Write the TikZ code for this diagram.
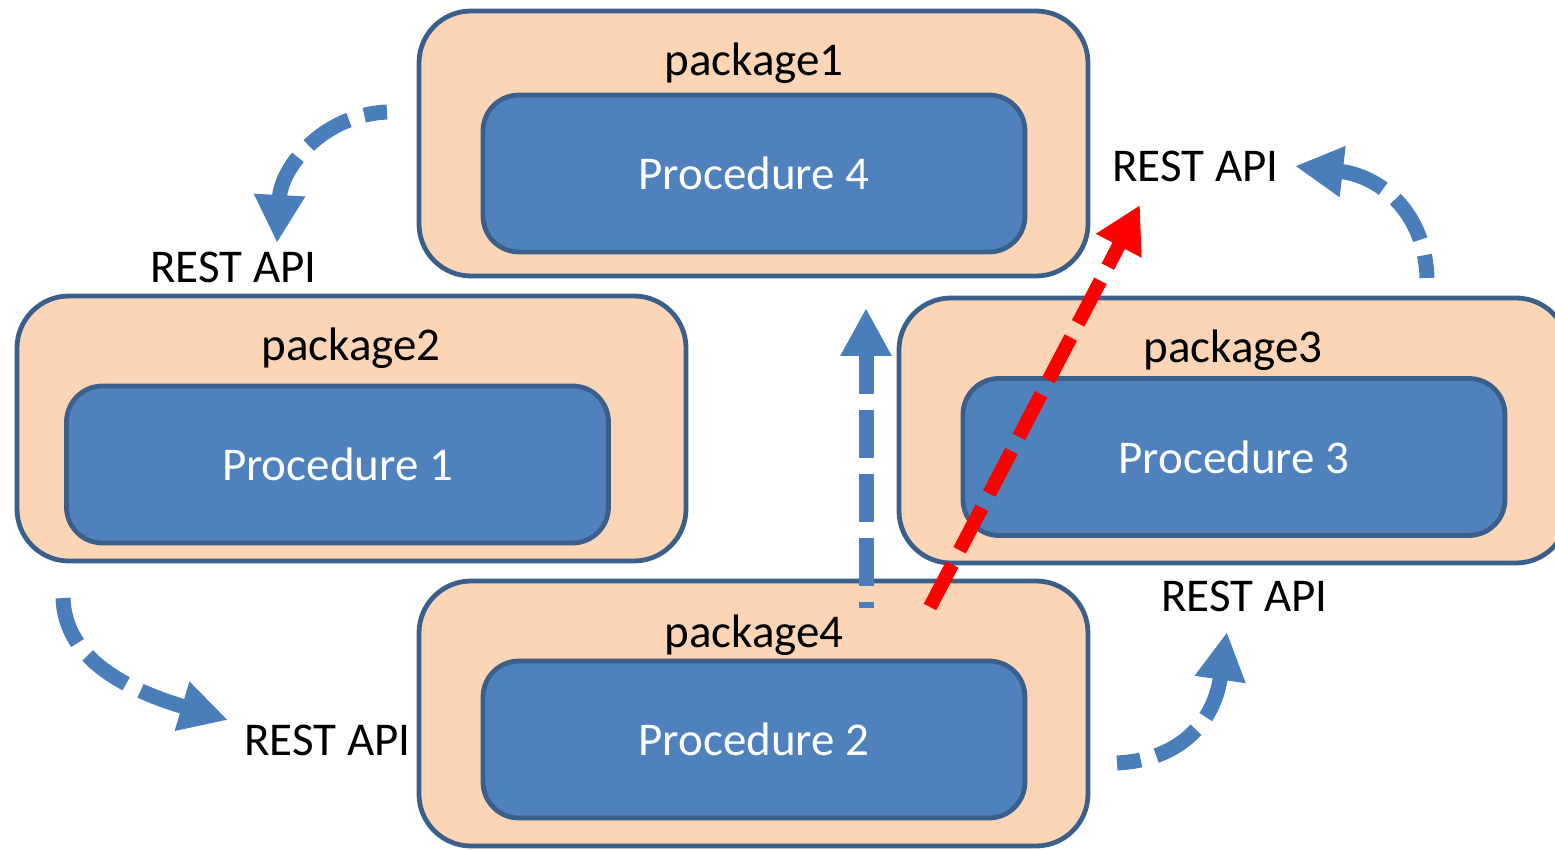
\documentclass[tikz,border=0pt]{standalone}
\usepackage{fontspec}
\setmainfont{Carlito}
\usetikzlibrary{arrows.meta}
\definecolor{pkgfill}{HTML}{FBD5B5}
\definecolor{pkgline}{HTML}{3A5F8B}
\definecolor{procfill}{HTML}{4F81BD}
\definecolor{flowblue}{HTML}{4A7EBB}
\definecolor{flowred}{HTML}{FF0000}
\begin{document}
\begin{tikzpicture}[x=0.5pt,y=-0.5pt,
  font=\fontsize{23.5}{28}\selectfont,
  pkg/.style={draw=pkgline, fill=pkgfill, line width=2.4pt, rounded corners=26pt,
    minimum width=334.5pt, minimum height=132.5pt, inner sep=0pt},
  proc/.style={draw=pkgline, fill=procfill, line width=2.4pt, rounded corners=18pt,
    minimum width=271pt, minimum height=78.5pt, inner sep=0pt, text=white},
  title/.style={anchor=base, inner sep=0pt},
  api/.style={anchor=base west, inner sep=0pt},
  flow/.style={draw=flowblue, line width=7.5pt, dash pattern=on 24pt off 8pt,
    -{Triangle[length=24pt,width=24pt]}},
  hot/.style={draw=flowred, line width=7pt, dash pattern=on 24pt off 8pt,
    -{Triangle[length=23pt,width=24pt]}}]
\clip (0,0) rectangle (1555,850);

% packages with their procedures
\node[pkg] (pkg1) at (753.5,143.5) {};
\node[proc] (proc4) at (754,173.5) {Procedure 4};
\node[title] (t1) at (754,76) {package1};

\node[pkg] (pkg2) at (351.5,428.5) {};
\node[proc] (proc1) at (337.5,464.5) {Procedure 1};
\node[title] (t2) at (351,361) {package2};

\node[pkg] (pkg3) at (1233.5,430.5) {};
\node[proc] (proc3) at (1234,457) {Procedure 3};
\node[title] (t3) at (1233,363) {package3};

\node[pkg] (pkg4) at (753.5,713.5) {};
\node[proc] (proc2) at (754,739.5) {Procedure 2};
\node[title] (t4) at (754,647) {package4};

% REST API labels
\node[api] (apiA) at (1112,182) {REST API};
\node[api] (apiB) at (150,283) {REST API};
\node[api] (apiC) at (244,755) {REST API};
\node[api] (apiD) at (1161,611) {REST API};

% call paths
\coordinate (aS) at (387,112);  \coordinate (aE) at (277,243);
\coordinate (bS) at (1427,278); \coordinate (bE) at (1295,166);
\coordinate (cS) at (63,598);   \coordinate (cE) at (228,720);
\coordinate (dS) at (1117,763); \coordinate (dE) at (1227,632);
\coordinate (vS) at (866,608);  \coordinate (vE) at (866,308);
\coordinate (rS) at (930,607);  \coordinate (rE) at (1140,205);

\draw[flow, dash phase=12.5pt] (aS) .. controls (322,115) and (281,168) .. (aE);
\draw[flow, dash phase=12.5pt] (bS) .. controls (1425,212) and (1380,176) .. (bE);
\draw[flow] (cS) .. controls (65,660) and (128,690) .. (cE);
\draw[flow, dash phase=12pt] (dS) .. controls (1180,760) and (1214,722) .. (dE);
\draw[flow, dash phase=21pt] (vS) -- (vE);
\draw[hot] (rS) -- (rE);
\end{tikzpicture}
\end{document}
